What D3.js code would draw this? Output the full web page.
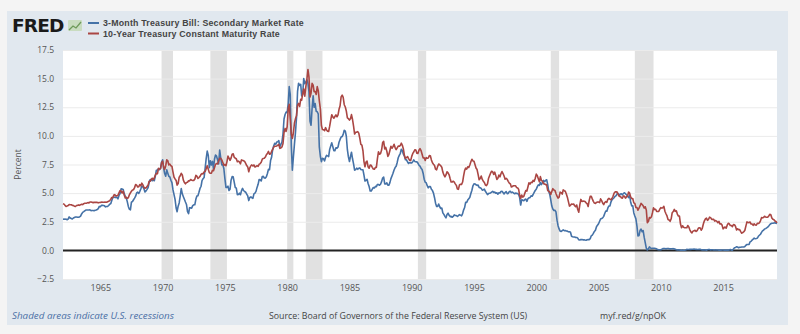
<!DOCTYPE html>
<meta charset="utf-8">
<style>
  body { margin: 0; background: #f4f4f4; font-family: "DejaVu Sans", sans-serif; }
  #chart { position: relative; width: 800px; height: 334px; }
  .tick text { fill: #555; }
</style>
<body>
<div id="chart"></div>
<script src="https://cdn.jsdelivr.net/npm/d3@7"></script>
<script>
  // monthly series, starting January 1962
  const startYear = 1962
  const seriesNames = ["3-Month Treasury Bill: Secondary Market Rate", "10-Year Treasury Constant Maturity Rate"]
  const seriesColors = ["#4572a7", "#aa4643"]

  const tbill = [
    2.72,2.73,2.72,2.73,2.68,2.73,2.92,2.82,2.78,2.74,2.83,2.87,
    2.91,2.92,2.89,2.90,2.92,2.99,3.18,3.32,3.38,3.45,3.52,3.52,
    3.52,3.53,3.54,3.47,3.48,3.48,3.46,3.50,3.53,3.57,3.64,3.84,
    3.81,3.93,3.93,3.92,3.89,3.80,3.83,3.84,3.92,4.03,4.08,4.36,
    4.60,4.67,4.63,4.61,4.64,4.50,4.80,4.96,5.37,5.35,5.32,4.96,
    4.72,4.56,4.26,3.84,3.60,3.54,4.21,4.27,4.42,4.56,4.73,5.01,
    5.08,4.97,5.14,5.36,5.62,5.54,5.38,5.10,5.20,5.33,5.49,5.92,
    6.18,6.16,6.08,6.15,6.08,6.49,7.00,7.01,7.13,7.04,7.19,7.72,
    7.91,7.16,6.71,6.48,7.04,6.74,6.47,6.41,6.12,5.91,5.28,4.87,
    4.44,3.70,3.38,3.86,4.14,4.75,5.40,4.94,4.69,4.46,4.22,4.01,
    3.38,3.20,3.73,3.71,3.69,3.91,3.98,3.98,4.46,4.74,4.78,5.07,
    5.41,5.60,6.09,6.26,6.36,7.19,8.01,8.67,8.29,7.22,7.83,7.45,
    7.77,7.12,7.96,8.33,8.23,7.90,7.55,8.76,8.06,7.46,7.47,7.15,
    6.26,5.50,5.49,5.61,5.23,5.34,6.13,6.44,6.42,5.96,5.48,5.44,
    4.87,4.88,5.00,4.86,5.20,5.41,5.23,5.14,5.08,4.92,4.75,4.35,
    4.62,4.67,4.60,4.54,4.94,5.00,5.15,5.50,5.77,6.19,6.16,6.06,
    6.45,6.46,6.32,6.31,6.43,6.71,7.07,7.04,7.84,8.13,8.79,9.12,
    9.35,9.27,9.46,9.49,9.58,9.05,9.26,9.45,10.18,11.47,11.87,12.07,
    12.04,12.81,14.30,13.60,9.15,7.00,8.13,9.26,10.32,11.58,13.89,14.60,
    14.40,14.50,13.48,13.63,15.00,14.56,14.70,14.90,14.60,13.87,11.27,10.93,
    12.41,13.50,12.49,12.82,12.15,12.11,11.91,9.01,8.20,7.75,8.04,8.01,
    7.81,8.13,8.30,8.25,8.19,8.82,9.12,9.39,9.05,8.71,8.71,8.96,
    8.93,9.03,9.44,9.69,9.90,9.94,10.13,10.49,10.41,9.97,8.79,8.16,
    7.76,8.22,8.57,8.00,7.56,7.01,7.05,7.18,7.08,7.17,7.20,7.07,
    7.04,7.03,6.59,6.06,6.12,6.21,5.84,5.57,5.19,5.18,5.35,5.49,
    5.45,5.59,5.56,5.76,5.75,5.69,5.78,6.00,6.32,6.40,5.81,5.80,
    5.90,5.69,5.69,5.92,6.27,6.50,6.73,7.02,7.23,7.34,7.68,8.09,
    8.29,8.48,8.83,8.70,8.40,8.22,7.92,7.91,7.72,7.59,7.67,7.64,
    7.64,7.74,7.90,7.77,7.74,7.73,7.62,7.45,7.36,7.17,7.06,6.74,
    6.22,5.94,5.91,5.65,5.46,5.57,5.58,5.33,5.22,5.00,4.60,4.12,
    3.84,3.84,4.05,3.81,3.66,3.70,3.28,3.14,2.97,2.84,3.14,3.25,
    3.06,2.95,2.97,2.89,2.96,3.10,3.05,3.05,2.96,3.04,3.12,3.08,
    3.02,3.21,3.52,3.74,4.19,4.18,4.39,4.50,4.64,4.96,5.25,5.64,
    5.81,5.80,5.73,5.67,5.70,5.50,5.47,5.41,5.26,5.30,5.35,5.16,
    5.02,4.87,4.96,4.99,5.02,5.09,5.15,5.05,5.09,4.99,5.03,4.91,
    5.03,5.01,5.14,5.16,5.05,4.93,5.05,5.14,4.95,4.97,5.14,5.16,
    5.04,5.09,5.03,4.95,5.00,4.98,4.96,4.90,4.61,3.96,4.41,4.39,
    4.34,4.45,4.48,4.28,4.51,4.59,4.60,4.76,4.73,4.88,5.07,5.23,
    5.34,5.57,5.72,5.67,5.92,5.74,5.93,6.11,6.00,6.11,6.17,5.77,
    5.15,4.88,4.42,3.87,3.62,3.49,3.51,3.36,2.64,2.16,1.87,1.69,
    1.65,1.73,1.79,1.72,1.73,1.70,1.68,1.62,1.63,1.58,1.23,1.19,
    1.17,1.17,1.13,1.13,1.07,0.92,0.90,0.95,0.94,0.92,0.93,0.90,
    0.88,0.93,0.94,0.94,1.02,1.27,1.33,1.48,1.65,1.75,2.06,2.20,
    2.33,2.54,2.74,2.78,2.84,2.97,3.22,3.44,3.42,3.71,3.88,3.89,
    4.24,4.43,4.51,4.60,4.72,4.79,4.95,4.96,4.81,4.92,4.94,4.85,
    4.98,5.03,4.94,4.87,4.73,4.61,4.82,4.20,3.89,3.90,3.27,3.00,
    2.75,2.12,1.26,1.29,1.73,1.86,1.63,1.72,1.13,0.67,0.19,0.03,
    0.13,0.30,0.22,0.16,0.18,0.18,0.18,0.17,0.12,0.07,0.05,0.05,
    0.06,0.11,0.15,0.16,0.16,0.12,0.16,0.16,0.15,0.13,0.14,0.14,
    0.15,0.13,0.10,0.06,0.04,0.04,0.04,0.02,0.01,0.02,0.01,0.01,
    0.03,0.09,0.08,0.08,0.09,0.09,0.10,0.10,0.11,0.10,0.09,0.07,
    0.07,0.10,0.09,0.06,0.04,0.05,0.04,0.04,0.02,0.05,0.07,0.07,
    0.04,0.05,0.05,0.03,0.03,0.04,0.03,0.03,0.02,0.02,0.02,0.03,
    0.03,0.02,0.03,0.02,0.02,0.02,0.03,0.07,0.02,0.02,0.12,0.23,
    0.26,0.31,0.29,0.23,0.27,0.27,0.30,0.30,0.29,0.33,0.45,0.51,
    0.51,0.52,0.74,0.79,0.90,0.98,1.07,1.01,1.03,1.07,1.23,1.32,
    1.41,1.57,1.70,1.76,1.86,1.90,1.96,2.03,2.13,2.25,2.33,2.37,
    2.37,2.39,2.40,2.38,2.35
  ]

  const tenYear = [
    4.08,4.04,3.93,3.84,3.87,3.91,4.01,3.98,3.98,3.93,3.92,3.86,
    3.83,3.92,3.93,3.97,3.93,3.99,4.02,4.00,4.08,4.11,4.12,4.13,
    4.17,4.15,4.22,4.23,4.20,4.17,4.19,4.19,4.20,4.19,4.15,4.18,
    4.19,4.21,4.21,4.20,4.21,4.21,4.20,4.25,4.29,4.35,4.45,4.62,
    4.61,4.83,4.87,4.75,4.78,4.81,5.02,5.22,5.18,5.01,5.16,4.84,
    4.58,4.63,4.54,4.59,4.85,5.02,5.16,5.28,5.30,5.48,5.75,5.70,
    5.53,5.56,5.74,5.64,5.87,5.72,5.50,5.42,5.46,5.58,5.70,6.03,
    6.04,6.19,6.30,6.17,6.32,6.57,6.72,6.69,7.16,7.10,7.14,7.65,
    7.79,7.24,7.07,7.39,7.91,7.84,7.46,7.53,7.39,7.33,6.84,6.39,
    6.24,6.11,5.70,5.83,6.39,6.52,6.73,6.58,6.14,5.93,5.81,5.93,
    5.95,6.08,6.07,6.19,6.13,6.11,6.11,6.21,6.55,6.48,6.28,6.36,
    6.46,6.64,6.71,6.67,6.85,6.90,7.13,7.40,7.09,6.79,6.73,6.74,
    6.99,6.96,7.21,7.51,7.58,7.54,7.81,8.04,8.04,7.90,7.68,7.43,
    7.50,7.39,7.73,8.23,8.06,7.86,8.06,8.40,8.43,8.14,8.05,8.00,
    7.74,7.79,7.73,7.56,7.90,7.86,7.83,7.77,7.59,7.41,7.29,6.87,
    7.21,7.39,7.46,7.37,7.46,7.28,7.33,7.40,7.34,7.52,7.58,7.69,
    7.96,8.03,8.04,8.15,8.35,8.46,8.64,8.41,8.42,8.64,8.81,9.01,
    9.10,9.10,9.12,9.18,9.25,8.91,8.95,9.03,9.33,10.30,10.65,10.39,
    10.80,12.41,12.75,11.47,10.18,9.78,10.25,11.10,11.51,11.75,12.68,12.84,
    12.57,13.19,13.12,13.68,14.10,13.47,14.28,14.94,15.80,15.15,13.39,13.72,
    14.59,14.43,13.86,13.87,13.62,14.30,13.95,13.06,12.34,10.91,10.55,10.54,
    10.46,10.72,10.51,10.40,10.38,10.85,11.38,11.85,11.65,11.54,11.69,11.83,
    11.67,11.84,12.32,12.63,13.41,13.56,13.36,12.72,12.52,12.16,11.57,11.50,
    11.38,11.51,11.86,11.43,10.85,10.16,10.31,10.33,10.37,10.24,9.78,9.26,
    9.19,8.70,7.78,7.30,7.71,7.80,7.30,7.17,7.45,7.43,7.25,7.11,
    7.08,7.25,7.25,8.02,8.61,8.40,8.45,8.76,9.42,9.52,8.86,8.99,
    8.67,8.21,8.37,8.72,9.09,8.92,9.06,9.26,8.98,8.80,8.96,9.11,
    9.09,9.17,9.36,9.18,8.86,8.28,8.02,8.11,8.19,8.01,7.87,7.84,
    8.21,8.47,8.59,8.79,8.76,8.48,8.47,8.75,8.89,8.72,8.39,8.08,
    8.09,7.85,8.11,8.04,8.07,8.28,8.27,7.90,7.65,7.53,7.42,7.09,
    7.03,7.34,7.54,7.48,7.39,7.26,6.84,6.59,6.42,6.59,6.87,6.77,
    6.60,6.26,5.98,5.97,6.04,5.96,5.81,5.68,5.36,5.33,5.72,5.77,
    5.75,5.97,6.48,6.97,7.18,7.10,7.30,7.24,7.46,7.74,7.96,7.81,
    7.78,7.47,7.20,7.06,6.63,6.17,6.28,6.49,6.20,6.04,5.93,5.71,
    5.65,5.81,6.27,6.51,6.74,6.91,6.87,6.64,6.83,6.53,6.20,6.30,
    6.58,6.42,6.69,6.89,6.71,6.49,6.22,6.30,6.21,6.03,5.88,5.81,
    5.54,5.57,5.65,5.64,5.65,5.50,5.46,5.34,4.81,4.53,4.83,4.65,
    4.72,5.00,5.23,5.18,5.54,5.90,5.79,5.94,5.92,6.11,6.03,6.28,
    6.66,6.52,6.26,5.99,6.44,6.10,6.05,5.83,5.80,5.74,5.72,5.24,
    5.16,5.10,4.89,5.14,5.39,5.28,5.24,4.97,4.73,4.57,4.65,5.09,
    5.04,4.91,5.28,5.21,5.16,4.93,4.65,4.26,3.87,3.94,4.05,4.03,
    4.05,3.90,3.81,3.96,3.57,3.33,3.98,4.45,4.27,4.29,4.30,4.27,
    4.15,4.08,3.83,4.35,4.72,4.73,4.50,4.28,4.13,4.10,4.19,4.23,
    4.22,4.17,4.50,4.34,4.14,4.00,4.18,4.26,4.20,4.46,4.54,4.47,
    4.42,4.57,4.72,4.99,5.11,5.11,5.09,4.88,4.72,4.73,4.60,4.56,
    4.76,4.72,4.56,4.69,4.75,5.10,5.00,4.67,4.52,4.53,4.15,4.10,
    3.74,3.74,3.51,3.68,3.88,4.10,4.01,3.89,3.69,3.81,3.53,2.42,
    2.52,2.87,2.82,2.93,3.29,3.72,3.56,3.59,3.40,3.39,3.40,3.59,
    3.73,3.69,3.73,3.85,3.42,3.20,3.01,2.70,2.65,2.54,2.76,3.29,
    3.39,3.58,3.41,3.46,3.17,3.00,3.00,2.30,1.98,2.15,2.01,1.98,
    1.97,1.97,2.17,2.05,1.80,1.62,1.53,1.68,1.72,1.75,1.65,1.72,
    1.91,1.98,1.96,1.76,1.93,2.30,2.58,2.74,2.81,2.62,2.72,2.90,
    2.86,2.71,2.72,2.71,2.56,2.60,2.54,2.42,2.53,2.30,2.33,2.21,
    1.88,1.98,2.04,1.94,2.20,2.36,2.32,2.17,2.17,2.07,2.26,2.24,
    2.09,1.78,1.89,1.81,1.81,1.64,1.50,1.56,1.63,1.76,2.14,2.49,
    2.43,2.42,2.48,2.30,2.30,2.19,2.32,2.21,2.20,2.36,2.35,2.40,
    2.58,2.86,2.84,2.87,2.98,2.91,2.89,2.89,3.00,3.15,3.12,2.83,
    2.71,2.68,2.57,2.53,2.40
  ]

  // NBER recessions [start, end] as "YYYY-MM"
  const recessions = [
    ["1969-12", "1970-11"], ["1973-11", "1975-03"], ["1980-01", "1980-07"],
    ["1981-07", "1982-11"], ["1990-07", "1991-03"], ["2001-03", "2001-11"],
    ["2007-12", "2009-06"]
  ]

  const yTicks = [-2.5, 0, 2.5, 5, 7.5, 10, 12.5, 15, 17.5]
  const xTickYears = [1965, 1970, 1975, 1980, 1985, 1990, 1995, 2000, 2005, 2010, 2015]

  const W = 800, H = 334
  const plot = { left: 63, right: 777, top: 50, bottom: 279 }

  const monthDate = i => new Date(startYear, i, 1)
  const parseYM = d3.timeParse("%Y-%m")

  const svg = d3.select("#chart").append("svg")
    .attr("width", W).attr("height", H)

  // outer panel
  svg.append("rect")
    .attr("x", 7).attr("y", 11).attr("width", 781).attr("height", 314)
    .attr("fill", "#e1e8ef")

  const x = d3.scaleTime()
    .domain([monthDate(0), monthDate(tbill.length - 1)])
    .range([plot.left, plot.right])
  const y = d3.scaleLinear()
    .domain([-2.5, 17.5])
    .range([plot.bottom, plot.top])

  svg.append("rect")
    .attr("x", plot.left).attr("y", plot.top)
    .attr("width", plot.right - plot.left).attr("height", plot.bottom - plot.top)
    .attr("fill", "#fff")

  // recession shading
  svg.append("g").selectAll("rect")
    .data(recessions)
    .join("rect")
    .attr("x", d => x(parseYM(d[0])))
    .attr("y", plot.top)
    .attr("width", d => x(parseYM(d[1])) - x(parseYM(d[0])))
    .attr("height", plot.bottom - plot.top)
    .attr("fill", "#e1e1e1")

  // y axis with gridlines
  const yAxis = svg.append("g")
    .attr("transform", `translate(${plot.left},0)`)
    .call(d3.axisLeft(y).tickValues(yTicks)
      .tickSize(-(plot.right - plot.left))
      .tickFormat(d3.format(".1f")))
  yAxis.select(".domain").remove()
  yAxis.selectAll(".tick line").attr("stroke", "#ebebeb")
  yAxis.selectAll(".tick text")
    .attr("x", -9).attr("font-size", 8.5).attr("font-family", "Open Sans")

  // zero line
  svg.append("line")
    .attr("x1", plot.left).attr("x2", plot.right)
    .attr("y1", y(0)).attr("y2", y(0))
    .attr("stroke", "#222").attr("stroke-width", 2)

  // x axis
  const xAxis = svg.append("g")
    .attr("transform", `translate(0,${plot.bottom})`)
    .call(d3.axisBottom(x)
      .tickValues(xTickYears.map(yr => new Date(yr, 0, 1)))
      .tickSize(0)
      .tickFormat(d3.timeFormat("%Y")))
  xAxis.select(".domain").remove()
  xAxis.selectAll(".tick text")
    .attr("dy", "1.05em").attr("font-size", 9).attr("font-family", "Open Sans")

  // series lines
  const line = d3.line()
    .x((d, i) => x(monthDate(i)))
    .y(d => y(d))

  ;[tbill, tenYear].forEach((vals, k) => {
    svg.append("path")
      .datum(vals)
      .attr("fill", "none")
      .attr("stroke", seriesColors[k])
      .attr("stroke-width", 1.6)
      .attr("stroke-linejoin", "round")
      .attr("d", line)
  })

  // y title
  svg.append("text")
    .attr("transform", `translate(21,${(plot.top + plot.bottom) / 2}) rotate(-90)`)
    .attr("text-anchor", "middle")
    .attr("font-size", 8.5).attr("font-family", "Open Sans").attr("fill", "#555")
    .text("Percent")

  // logo
  svg.append("text")
    .attr("x", 12).attr("y", 32)
    .attr("font-family", "DejaVu Sans").attr("font-weight", "bold")
    .attr("font-size", 18.5).attr("letter-spacing", -0.8).attr("fill", "#1a1a1a")
    .text("FRED")
  const icon = svg.append("g").attr("transform", "translate(68,20)")
  icon.append("rect").attr("width", 14).attr("height", 11).attr("rx", 1)
    .attr("fill", "#c9dcc0")
  icon.append("polyline")
    .attr("points", "1,10 5,6 8,8 13,2")
    .attr("fill", "none").attr("stroke", "#6e9a5a").attr("stroke-width", 1.3)

  // legend
  const legend = svg.append("g")
  seriesNames.forEach((name, k) => {
    const ly = 23 + k * 10.5
    legend.append("line")
      .attr("x1", 88).attr("x2", 99).attr("y1", ly).attr("y2", ly)
      .attr("stroke", seriesColors[k]).attr("stroke-width", 2)
    legend.append("text")
      .attr("x", 103).attr("y", ly + 3)
      .attr("font-size", 8.8).attr("font-weight", "bold").attr("letter-spacing", 0.2)
      .attr("font-family", "Liberation Sans").attr("fill", "#444")
      .text(name)
  })

  // footer
  const foot = svg.append("g").attr("font-size", 8.8).attr("font-family", "Open Sans")
  foot.append("text").attr("x", 12).attr("y", 319)
    .attr("font-style", "italic").attr("fill", "#4a6fa5")
    .attr("textLength", 162).attr("lengthAdjust", "spacingAndGlyphs")
    .text("Shaded areas indicate U.S. recessions")
  foot.append("text").attr("x", 269).attr("y", 319).attr("fill", "#444")
    .text("Source: Board of Governors of the Federal Reserve System (US)")
  foot.append("text").attr("x", 600).attr("y", 319).attr("fill", "#444")
    .text("myf.red/g/npOK")
</script>
</body>
